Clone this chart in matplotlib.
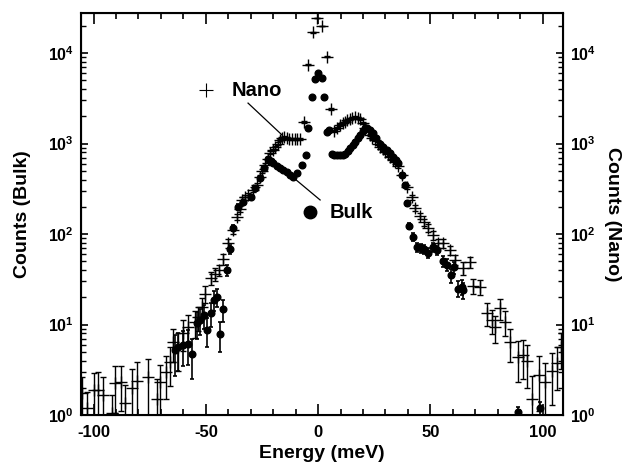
import numpy as np
import matplotlib
matplotlib.use('Agg')
import matplotlib.pyplot as plt

plt.rcParams['font.family'] = ['Liberation Sans', 'DejaVu Sans']
plt.rcParams['font.weight'] = 'bold'
plt.rcParams['mathtext.fontset'] = 'custom'
plt.rcParams['mathtext.bf'] = 'Liberation Sans:bold'
plt.rcParams['mathtext.rm'] = 'Liberation Sans:bold'
plt.rcParams['axes.unicode_minus'] = False

# Nano sample (crosses): energy (meV), counts, error
nano_e = [-105, -103, -100, -98, -95.8, -91.8, -90.4, -88, -86, -82.8, -80.6, -75.7,
          -71.7, -70.4, -67.7, -66, -64.6, -62.4, -60, -57.9, -54.8, -53.4, -51.7, -50.3,
          -47.7, -45.9, -44, -42.3, -40, -38, -36, -35, -34, -32.5, -31, -29, -27, -26,
          -24.8, -23.6, -22.5, -21.4, -20.2, -19, -18, -17, -16, -15, -14, -12.8, -11.6,
          -10.4, -9.2, -8, -6.2, -4.4, -2.2, -0.4, 1.8, 4, 5.8,
          7, 8.5, 9.8, 11, 12, 13, 14.2, 15.3, 16.5, 17.6, 18.7, 20, 21, 23, 24.2, 25.4,
          26.5, 27.6, 28.7, 29.8, 31, 32, 33.2, 34.3, 35.6, 37.4, 39.6, 41.9, 43.2, 45.4,
          47.2, 49, 51.2, 53.4, 55.7, 58.8, 61, 64.6, 67.7, 69, 72, 75.3, 77.5, 78.8, 81,
          83.3, 85.5, 89, 91.3, 93, 95.3, 98.4, 101, 104, 106.5, 108]
nano_y = [1.75, 1.2, 1.9, 1.9, 1.66, 1.05, 2.25, 2.3, 1.35, 2.0, 2.4, 2.6,
          1.5, 2.3, 3.0, 3.9, 6.4, 5.6, 8.1, 9.4, 10.6, 12, 15.6, 22,
          33, 36, 40, 53, 80, 110, 155, 190, 240, 255, 270, 310, 350, 430,
          500, 580, 680, 790, 850, 910, 1000, 1100, 1150, 1180, 1150, 1120, 1120,
          1120, 1120, 1130, 1730, 7400, 17000, 24500, 20000, 9100, 2400,
          1380, 1500, 1590, 1680, 1730, 1800, 1860, 1900, 1960, 1920, 1860, 1700, 1500, 1240, 1160, 1090,
          1000, 910, 860, 810, 760, 710, 660, 620, 560, 450, 330, 255, 195, 160,
          135, 117, 97, 80, 80, 66, 52, 42, 49, 27, 26, 13.4, 11.2, 9.4, 15.2,
          10.7, 6.4, 4.4, 4.6, 4.0, 1.5, 2.8, 2.3, 3.1, 3.8, 5.6]
nano_err = [0.9, 0.6, 1.0, 1.1, 1.0, 0.6, 1.2, 1.2, 0.8, 1.2, 1.5, 1.6,
            1.0, 1.3, 1.5, 1.8, 2.5, 2.5, 3.0, 3.3, 3.5, 3.5, 4, 4.5,
            5.5, 6, 6, 7, 9, 10, 12, 13, 15, 15, 16, 17, 18, 20,
            22, 24, 26, 28, 29, 30, 31, 33, 34, 34, 34, 33, 33,
            33, 33, 33, 40, 80, 130, 150, 140, 90, 50,
            37, 39, 40, 41, 42, 42, 43, 44, 44, 44, 43, 41, 39, 35, 34, 33,
            32, 30, 29, 28, 28, 27, 26, 25, 24, 21, 18, 16, 14, 13,
            12, 11, 10, 9, 9, 8, 7, 6.5, 7, 5, 5, 3.7, 3.3, 3.1, 3.9,
            3.3, 2.5, 2.1, 2.1, 2.0, 1.2, 1.7, 1.5, 1.8, 1.9, 2.4]

# Bulk sample (dots)
bulk_e = [-63.7, -62.4, -60, -57.9, -56, -53.9, -52.6, -51, -49.4, -47.7, -46.3, -45,
          -43.6, -42.3, -40.5, -39.2, -37.8, -35.6, -33.4, -30, -28, -25.8, -24, -22.3,
          -21, -20, -18.5, -17, -15.5, -13.8, -12.4, -11, -9.4, -7, -5.3, -4.4, -2.7, -1.3,
          0, 1.8, 2.7, 4.0, 5.0, 6.0, 7.2, 8.5, 9.8, 11, 12, 13.2, 14.2, 15.4, 16.5, 17.6,
          18.7, 20, 21, 22, 23.2, 24.5, 26, 27.6, 29, 30.7, 32, 33.4, 34.5, 35.6, 37.4,
          38.8, 39.6, 40.5, 42.3, 44, 45.9, 47.2, 49, 51.2, 53, 55.7, 57.4, 59.2, 60.6,
          62.4, 64, 64.6, 89, 99]
bulk_y = [5.2, 5.6, 6.0, 6.1, 4.7, 10.4, 11.2, 12.7, 8.7, 13.4, 18.7, 20,
          7.8, 14.8, 40, 68, 117, 200, 225, 255, 320, 415, 540, 675,
          640, 605, 570, 540, 510, 480, 450, 425, 470, 580, 750, 1500, 3250, 5150,
          6000, 5300, 3250, 1340, 1400, 760, 740, 740, 745, 750, 760, 830, 890, 970, 1050, 1140,
          1240, 1380, 1480, 1500, 1420, 1300, 1150, 1000, 920, 850, 780, 710, 660, 610, 450,
          350, 220, 123, 93, 72, 70, 68, 62, 72, 66, 50, 46, 35, 43,
          25, 26, 24, 1.07, 1.2]
bulk_err = [2.5, 2.5, 2.5, 2.5, 2.2, 3.5, 3.5, 3.8, 3, 4, 4.5, 4.5,
            2.8, 4, 6, 8, 10, 13, 14, 15, 17, 19, 22, 25,
            24, 24, 23, 22, 21, 21, 20, 20, 20, 23, 26, 37, 55, 70,
            75, 70, 55, 35, 36, 26, 26, 26, 26, 26, 26, 27, 28, 30, 31, 32,
            33, 35, 37, 37, 36, 34, 32, 30, 29, 28, 27, 26, 25, 24, 20,
            18, 14, 10, 9, 8, 8, 8, 7.5, 8, 8, 7, 6.5, 6, 6.5,
            5, 5, 5, 0.15, 0.2]

xticks = [-100, -50, 0, 50, 100]
yticks = [1, 10, 100, 1000, 10000]
ytick_labels = [r'$\mathbf{10^{%d}}$' % k for k in range(5)]

fig = plt.figure(figsize=(6.29, 4.67), dpi=100)
ax = fig.add_axes([0.1288, 0.1113, 0.7663, 0.8608])

ax.errorbar(nano_e, nano_y, yerr=nano_err, fmt='+', color='black', ms=8, mew=1.0,
            elinewidth=1.0, capsize=2, capthick=1.0, zorder=3)
ax.errorbar(bulk_e, bulk_y, yerr=bulk_err, fmt='o', color='black', ms=4.8,
            elinewidth=1.2, capsize=1.5, capthick=1.2, zorder=4)

ax.set_yscale('log')
ax.set_xlim(-105.6, 109.1)
ax.set_ylim(1, 27700)

ax.set_xticks(xticks)
ax.set_xticks(np.arange(-100, 110, 10), minor=True)
ax.set_yticks(yticks)
ax.set_yticklabels(ytick_labels)
ax.tick_params(axis='x', which='major', direction='in', length=8, width=1.2,
               top=True, labelsize=12, pad=7)
ax.tick_params(axis='x', which='minor', direction='in', length=4, width=1.2, top=True)
ax.tick_params(axis='y', which='major', direction='in', length=5, width=1.2,
               labelsize=11.5, pad=5)
ax.tick_params(axis='y', which='minor', direction='in', length=3.5, width=1.0)
for lbl in ax.get_xticklabels():
    lbl.set_fontweight('bold')
for s in ax.spines.values():
    s.set_linewidth(1.5)

ax2 = ax.twinx()
ax2.set_yscale('log')
ax2.set_ylim(1, 27700)
ax2.set_yticks(yticks)
ax2.set_yticklabels(ytick_labels)
ax2.tick_params(axis='y', which='major', direction='in', length=5, width=1.2,
                labelsize=11.5, pad=5)
ax2.tick_params(axis='y', which='minor', direction='in', length=3.5, width=1.0)

ax.set_xlabel('Energy (meV)', fontsize=14, fontweight='bold', labelpad=4)
ax.set_ylabel('Counts (Bulk)', fontsize=14, fontweight='bold', labelpad=12)
ax2.set_ylabel('Counts (Nano)', fontsize=14, fontweight='bold', rotation=-90, labelpad=18)

# labels with pointer lines
ax.plot([-49.9], [3900], marker='+', color='black', ms=10, mew=0.8)
ax.text(-38.3, 3900, 'Nano', fontsize=14.5, fontweight='bold', va='center', ha='left')
ax.plot([-31.2, -16], [2800, 1240], color='black', lw=0.9)
ax.plot([-3.6], [175], marker='o', color='black', ms=9)
ax.text(5.3, 175, 'Bulk', fontsize=14.5, fontweight='bold', va='center', ha='left')
ax.plot([-21.4, 0.9], [690, 238], color='black', lw=0.9)

fig.savefig('out.png', dpi=100)
